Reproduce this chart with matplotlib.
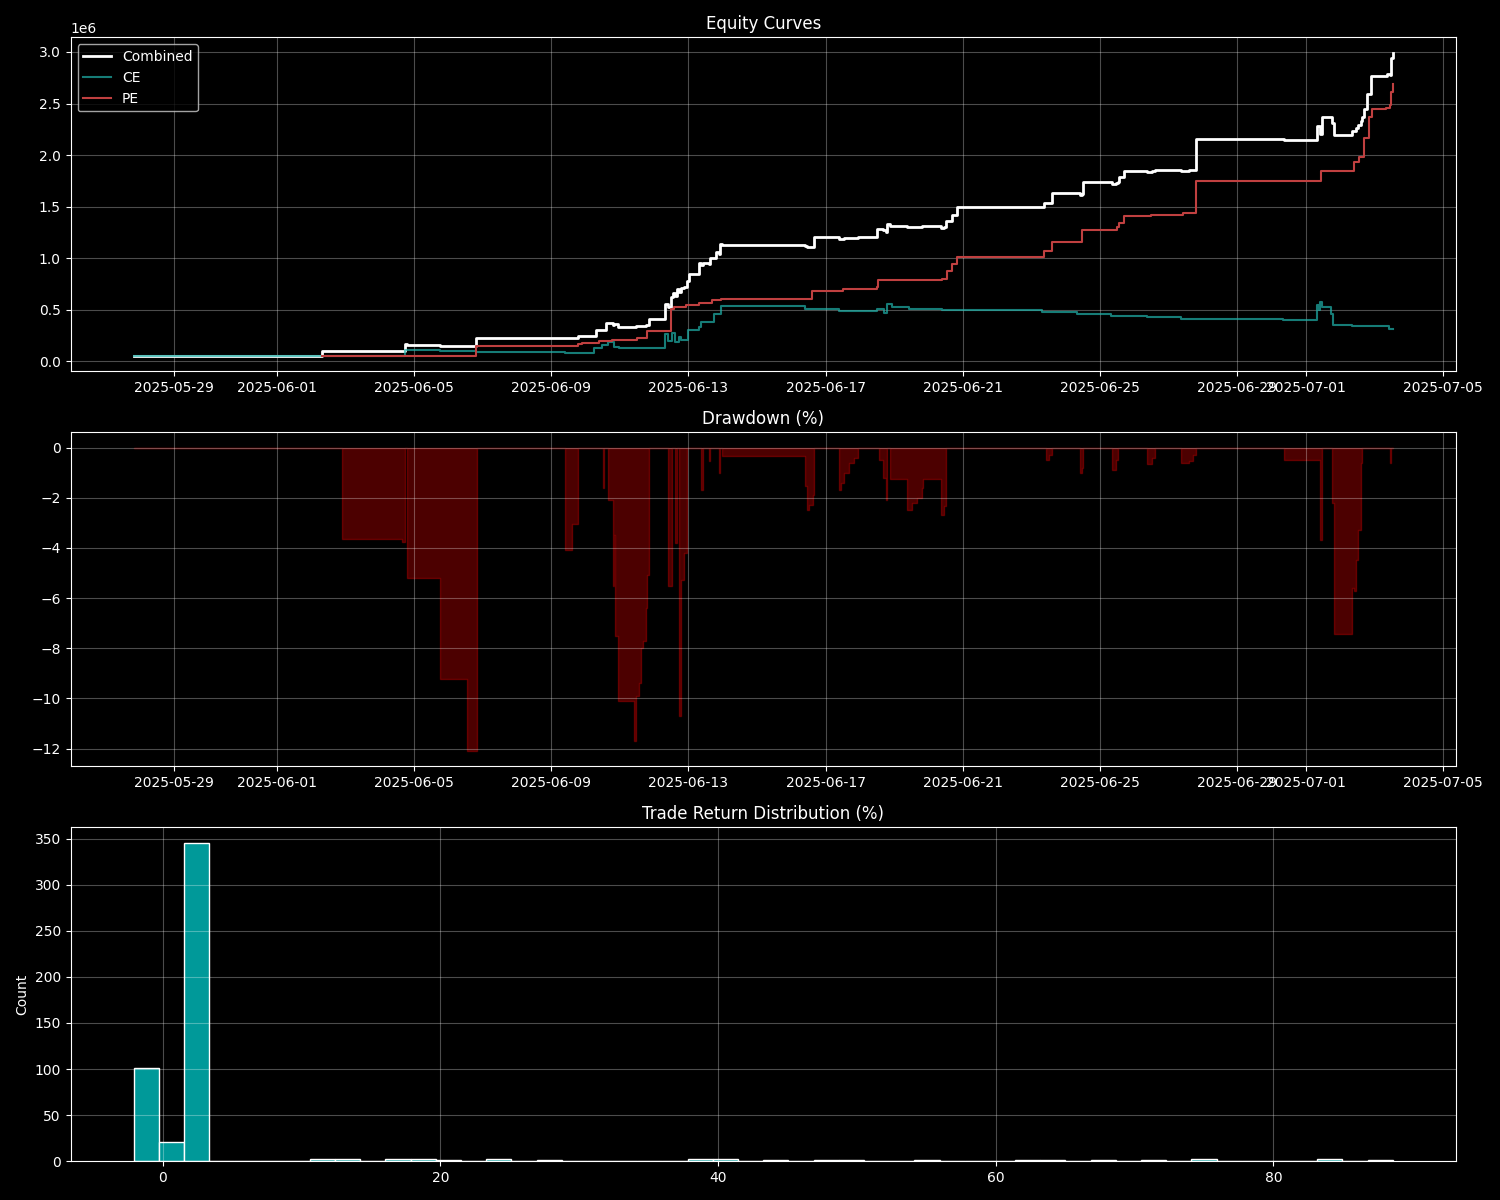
import numpy as np
import pandas as pd
import matplotlib
matplotlib.use('Agg')
import matplotlib.pyplot as plt

# combined equity (step points)
comb_time = [
    '2025-05-27 20:00', '2025-06-02 08:00', '2025-06-02 22:00', '2025-06-04 17:30',
    '2025-06-04 19:30', '2025-06-05 18:00', '2025-06-06 13:00', '2025-06-06 19:15',
    '2025-06-09 09:30', '2025-06-09 15:00', '2025-06-09 19:10', '2025-06-10 07:45',
    '2025-06-10 12:40', '2025-06-10 13:20', '2025-06-10 14:45', '2025-06-10 15:30',
    '2025-06-10 19:00', '2025-06-10 20:20', '2025-06-10 22:30', '2025-06-11 10:20',
    '2025-06-11 11:40', '2025-06-11 13:45', '2025-06-11 15:10', '2025-06-11 18:40',
    '2025-06-11 19:20', '2025-06-11 20:45', '2025-06-12 08:00', '2025-06-12 10:00',
    '2025-06-12 12:00', '2025-06-12 13:10', '2025-06-12 14:50', '2025-06-12 16:10',
    '2025-06-12 17:50', '2025-06-12 19:15', '2025-06-12 21:00', '2025-06-12 23:00',
    '2025-06-13 00:40', '2025-06-13 07:40', '2025-06-13 09:00', '2025-06-13 10:00',
    '2025-06-13 14:50', '2025-06-13 15:30', '2025-06-13 19:40', '2025-06-13 21:40',
    '2025-06-13 22:20', '2025-06-13 23:40', '2025-06-16 09:50', '2025-06-16 11:10',
    '2025-06-16 12:30', '2025-06-16 15:10', '2025-06-16 16:00', '2025-06-17 09:10',
    '2025-06-17 11:10', '2025-06-17 13:10', '2025-06-17 16:40', '2025-06-17 20:00',
    '2025-06-17 22:50', '2025-06-18 12:20', '2025-06-18 16:30', '2025-06-18 18:00',
    '2025-06-18 18:40', '2025-06-18 21:00', '2025-06-19 09:10', '2025-06-19 12:50',
    '2025-06-19 16:10', '2025-06-19 19:40', '2025-06-20 08:40', '2025-06-20 10:40',
    '2025-06-20 12:20', '2025-06-20 16:40', '2025-06-20 20:10', '2025-06-23 09:00',
    '2025-06-23 10:20', '2025-06-23 12:30', '2025-06-23 14:40', '2025-06-24 09:40',
    '2025-06-24 11:40', '2025-06-24 12:20', '2025-06-25 08:20', '2025-06-25 11:10',
    '2025-06-25 12:30', '2025-06-25 13:10', '2025-06-25 16:40', '2025-06-26 08:50',
    '2025-06-26 12:20', '2025-06-26 14:20', '2025-06-27 08:50', '2025-06-27 14:20',
    '2025-06-27 17:10', '2025-06-27 19:10', '2025-06-30 08:40', '2025-07-01 07:40',
    '2025-07-01 09:50', '2025-07-01 11:10', '2025-07-01 18:10', '2025-07-01 19:30',
    '2025-07-02 08:20', '2025-07-02 09:40', '2025-07-02 11:00', '2025-07-02 12:30',
    '2025-07-02 14:40', '2025-07-02 15:20', '2025-07-02 16:40', '2025-07-02 19:00',
    '2025-07-02 21:50', '2025-07-03 08:40', '2025-07-03 10:50', '2025-07-03 11:30',
    '2025-07-03 12:50',
]
comb_val = [
    0.050, 0.100, 0.0963, 0.165,
    0.156, 0.150, 0.145, 0.230,
    0.221, 0.223, 0.245, 0.307,
    0.302, 0.307, 0.375, 0.367,
    0.355, 0.362, 0.337, 0.331,
    0.338, 0.340, 0.345, 0.351,
    0.356, 0.406, 0.560, 0.530,
    0.620, 0.660, 0.635, 0.700,
    0.670, 0.710, 0.720, 0.780,
    0.850, 0.950, 0.934, 0.950,
    0.945, 1.000, 1.055, 1.045,
    1.135, 1.131, 1.117, 1.107,
    1.109, 1.113, 1.205, 1.185,
    1.188, 1.193, 1.198, 1.200,
    1.210, 1.285, 1.270, 1.258,
    1.333, 1.316, 1.300, 1.304,
    1.307, 1.316, 1.297, 1.302,
    1.365, 1.420, 1.500, 1.540,
    1.533, 1.537, 1.630, 1.614,
    1.618, 1.735, 1.720, 1.727,
    1.735, 1.785, 1.850, 1.838,
    1.843, 1.860, 1.849, 1.851,
    1.855, 2.155, 2.144, 2.285,
    2.200, 2.365, 2.313, 2.190,
    2.230, 2.232, 2.260, 2.287,
    2.330, 2.370, 2.450, 2.590,
    2.770, 2.790, 2.775, 2.945,
    2.995,
]

# CE leg equity
ce_time = [
    '2025-05-27 20:00', '2025-06-04 17:30', '2025-06-05 18:00', '2025-06-06 19:15',
    '2025-06-09 09:30', '2025-06-10 06:20', '2025-06-10 11:25', '2025-06-10 15:30',
    '2025-06-10 20:20', '2025-06-10 23:50', '2025-06-12 08:00', '2025-06-12 10:00',
    '2025-06-12 12:45', '2025-06-12 14:50', '2025-06-12 17:50', '2025-06-12 19:15',
    '2025-06-12 23:30', '2025-06-13 07:40', '2025-06-13 09:00', '2025-06-13 18:20',
    '2025-06-13 23:00', '2025-06-16 09:50', '2025-06-17 09:40', '2025-06-18 12:00',
    '2025-06-18 17:10', '2025-06-18 18:40', '2025-06-18 22:50', '2025-06-19 10:40',
    '2025-06-20 09:20', '2025-06-23 07:40', '2025-06-24 08:10', '2025-06-25 07:40',
    '2025-06-26 08:50', '2025-06-27 08:50', '2025-06-30 08:00', '2025-07-01 07:40',
    '2025-07-01 09:00', '2025-07-01 10:00', '2025-07-01 11:10', '2025-07-01 17:30',
    '2025-07-01 19:00', '2025-07-02 08:20', '2025-07-03 10:10', '2025-07-03 12:50',
]
ce_val = [
    0.050, 0.106, 0.100, 0.090,
    0.077, 0.130, 0.155, 0.187,
    0.140, 0.125, 0.260, 0.200,
    0.270, 0.190, 0.240, 0.210,
    0.300, 0.330, 0.380, 0.455,
    0.535, 0.510, 0.487, 0.503,
    0.468, 0.552, 0.526, 0.510,
    0.494, 0.477, 0.460, 0.442,
    0.429, 0.413, 0.404, 0.542,
    0.500, 0.570, 0.525, 0.462,
    0.348, 0.345, 0.316, 0.316,
]

# PE leg equity
pe_time = [
    '2025-06-02 08:00', '2025-06-06 19:15', '2025-06-09 19:10', '2025-06-09 22:00',
    '2025-06-10 09:50', '2025-06-10 18:20', '2025-06-11 11:50', '2025-06-11 19:20',
    '2025-06-12 12:10', '2025-06-12 14:10', '2025-06-12 22:30', '2025-06-13 07:40',
    '2025-06-13 16:50', '2025-06-13 23:00', '2025-06-16 14:40', '2025-06-17 12:00',
    '2025-06-18 12:00', '2025-06-18 12:40', '2025-06-20 09:40', '2025-06-20 12:50',
    '2025-06-20 16:40', '2025-06-20 20:10', '2025-06-23 09:00', '2025-06-23 14:40',
    '2025-06-24 11:40', '2025-06-25 11:50', '2025-06-25 13:10', '2025-06-25 16:40',
    '2025-06-26 12:00', '2025-06-27 10:00', '2025-06-27 19:10', '2025-07-01 10:40',
    '2025-07-02 09:40', '2025-07-02 13:10', '2025-07-02 16:40', '2025-07-02 20:10',
    '2025-07-02 22:10', '2025-07-03 08:00', '2025-07-03 10:50', '2025-07-03 11:30',
    '2025-07-03 12:50',
]
pe_val = [
    0.050, 0.145, 0.165, 0.180,
    0.195, 0.210, 0.230, 0.293,
    0.510, 0.530, 0.550, 0.565,
    0.590, 0.603, 0.680, 0.700,
    0.720, 0.784, 0.800, 0.874,
    0.940, 1.016, 1.068, 1.155,
    1.278, 1.300, 1.340, 1.407,
    1.420, 1.440, 1.745, 1.850,
    1.930, 1.980, 2.170, 2.370,
    2.446, 2.460, 2.490, 2.610,
    2.690,
]

# drawdown of combined curve, %
dd_time = [
    '2025-05-27 20:00', '2025-06-02 22:00', '2025-06-04 16:00', '2025-06-04 17:30',
    '2025-06-04 19:30', '2025-06-05 18:00', '2025-06-06 13:00', '2025-06-06 20:00',
    '2025-06-09 09:30', '2025-06-09 15:00', '2025-06-09 19:10', '2025-06-10 12:40',
    '2025-06-10 13:20', '2025-06-10 15:30', '2025-06-10 19:00', '2025-06-10 20:20',
    '2025-06-10 21:00', '2025-06-10 22:30', '2025-06-11 10:20', '2025-06-11 11:40',
    '2025-06-11 13:45', '2025-06-11 15:10', '2025-06-11 16:30', '2025-06-11 18:40',
    '2025-06-11 19:20', '2025-06-11 20:45', '2025-06-12 10:00', '2025-06-12 12:45',
    '2025-06-12 14:50', '2025-06-12 16:10', '2025-06-12 17:50', '2025-06-12 19:15',
    '2025-06-12 21:00', '2025-06-12 23:00', '2025-06-13 09:00', '2025-06-13 10:00',
    '2025-06-13 14:50', '2025-06-13 15:30', '2025-06-13 21:40', '2025-06-13 22:20',
    '2025-06-13 23:40', '2025-06-16 09:50', '2025-06-16 11:10', '2025-06-16 12:30',
    '2025-06-16 15:10', '2025-06-16 16:00', '2025-06-17 09:10', '2025-06-17 11:10',
    '2025-06-17 13:10', '2025-06-17 16:40', '2025-06-17 20:00', '2025-06-17 22:50',
    '2025-06-18 13:40', '2025-06-18 16:30', '2025-06-18 18:00', '2025-06-18 18:40',
    '2025-06-18 21:00', '2025-06-19 09:10', '2025-06-19 12:50', '2025-06-19 16:10',
    '2025-06-19 19:40', '2025-06-19 20:20', '2025-06-20 08:40', '2025-06-20 10:40',
    '2025-06-20 12:20', '2025-06-23 10:20', '2025-06-23 12:30', '2025-06-23 14:40',
    '2025-06-24 09:40', '2025-06-24 11:40', '2025-06-24 12:20', '2025-06-25 08:20',
    '2025-06-25 11:10', '2025-06-25 12:30', '2025-06-26 08:50', '2025-06-26 12:20',
    '2025-06-26 14:20', '2025-06-27 08:50', '2025-06-27 14:20', '2025-06-27 17:10',
    '2025-06-27 19:10', '2025-06-30 08:40', '2025-07-01 09:50', '2025-07-01 11:10',
    '2025-07-01 18:10', '2025-07-01 19:30', '2025-07-02 08:20', '2025-07-02 09:40',
    '2025-07-02 11:00', '2025-07-02 12:30', '2025-07-02 14:40', '2025-07-02 15:20',
    '2025-07-03 10:50', '2025-07-03 11:30', '2025-07-03 12:50',
]
dd_val = [
    0.0, -3.65, -3.75, 0.0,
    -5.19, -9.21, -12.1, 0.0,
    -4.1, -3.05, 0.0, -1.6,
    0.0, -2.1, -5.5, -3.5,
    -7.5, -10.1, -11.7, -9.9,
    -9.4, -8.0, -7.7, -6.4,
    -5.1, 0.0, -5.5, 0.0,
    -3.8, 0.0, -10.7, -5.3,
    -4.2, 0.0, -1.7, 0.0,
    -0.55, 0.0, -1.0, 0.0,
    -0.32, -1.55, -2.48, -2.3,
    -1.9, 0.0, -1.7, -1.4,
    -1.0, -0.6, -0.4, 0.0,
    -0.5, -1.2, -2.1, 0.0,
    -1.24, -2.48, -2.2, -2.0,
    -1.6, -1.25, -2.68, -2.35,
    0.0, -0.5, -0.3, 0.0,
    -1.0, -0.8, 0.0, -0.9,
    -0.5, 0.0, -0.65, -0.4,
    0.0, -0.6, -0.55, -0.3,
    0.0, -0.51, -3.68, 0.0,
    -2.2, -7.44, -5.6, -5.7,
    -4.5, -3.3, -0.6, 0.0,
    -0.6, 0.0, 0.0,
]

# trade return histogram (50 bins)
ret_min, ret_max = -2.1, 88.6
bin_counts = [101, 21, 345, 0, 0, 0, 0, 2, 2, 0,
              2, 2, 1, 0, 2, 0, 1, 0, 0, 0,
              0, 0, 3, 2, 0, 1, 0, 1, 1, 0,
              0, 1, 0, 0, 0, 1, 1, 0, 1, 0,
              1, 0, 2, 0, 0, 0, 0, 2, 0, 1]

plt.style.use('dark_background')

fig, (ax1, ax2, ax3) = plt.subplots(3, 1, figsize=(15, 12))

ax1.plot(pd.to_datetime(comb_time), np.array(comb_val) * 1e6, color='white',
         lw=2, drawstyle='steps-post', label='Combined')
ax1.plot(pd.to_datetime(ce_time), np.array(ce_val) * 1e6, color='lightseagreen',
         alpha=0.7, lw=1.5, drawstyle='steps-post', label='CE')
ax1.plot(pd.to_datetime(pe_time), np.array(pe_val) * 1e6, color='#c04040',
         lw=1.5, drawstyle='steps-post', label='PE')
ax1.set_title('Equity Curves')
ax1.legend(loc='upper left')
ax1.grid(True, alpha=0.3)

ax2.fill_between(pd.to_datetime(dd_time), dd_val, 0, step='post',
                 color='red', alpha=0.3)
ax2.set_title('Drawdown (%)')
ax2.grid(True, alpha=0.3)

edges = np.linspace(ret_min, ret_max, len(bin_counts) + 1)
ax3.hist(edges[:-1], bins=edges, weights=bin_counts, color='#009999',
         edgecolor='white', linewidth=1)
ax3.set_title('Trade Return Distribution (%)')
ax3.set_ylabel('Count')
ax3.grid(True, alpha=0.3)

plt.tight_layout()
plt.savefig('out.png', dpi=100)
